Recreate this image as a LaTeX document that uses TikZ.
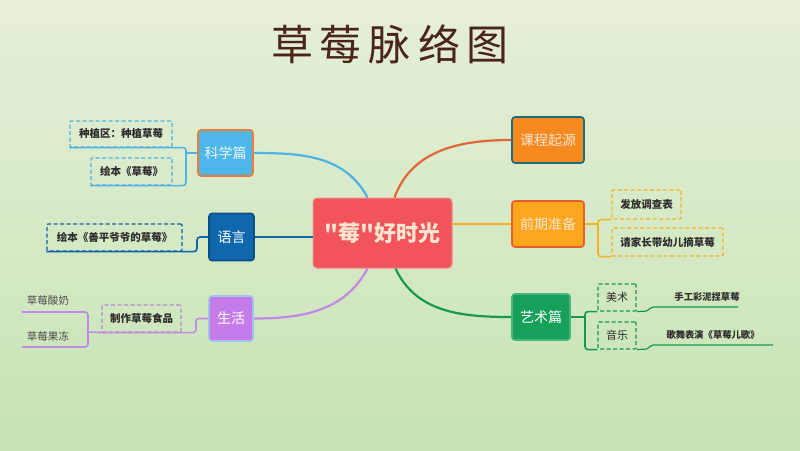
\documentclass[tikz,border=0pt]{standalone}
\usepackage{fontspec}
\newfontfamily\cjk{Noto Sans CJK SC}
\definecolor{bgtop}{HTML}{E6F0D8}
\definecolor{bgbot}{HTML}{C6E3B4}
\definecolor{mainred}{HTML}{F2545B}
\definecolor{cream}{HTML}{FDE6CF}
\definecolor{sciblue}{HTML}{4DB6EA}
\definecolor{sciborder}{HTML}{EF7D33}
\definecolor{langblue}{HTML}{0F68AE}
\definecolor{langborder}{HTML}{0A4F86}
\definecolor{lifepurple}{HTML}{C57CE9}
\definecolor{lifeborder}{HTML}{9EC5EF}
\definecolor{origorange}{HTML}{F5891F}
\definecolor{origborder}{HTML}{1F6E78}
\definecolor{prepyellow}{HTML}{FBA71D}
\definecolor{prepborder}{HTML}{E8612C}
\definecolor{artgreen}{HTML}{17A05A}
\definecolor{artborder}{HTML}{46B67C}
\definecolor{lnblue}{HTML}{4FB3E3}
\definecolor{lndblue}{HTML}{0D64A8}
\definecolor{lnpurple}{HTML}{C08AE6}
\definecolor{lnorange}{HTML}{E0673A}
\definecolor{lngold}{HTML}{F5B324}
\definecolor{lngreen}{HTML}{16994F}
\definecolor{titlebrown}{HTML}{4A2518}
\definecolor{leaftext}{HTML}{2D2D2D}
\tikzset{
  topic/.style={rounded corners=3pt, line width=1.6pt, inner sep=0pt,
    font=\cjk\fontsize{14}{15}\selectfont, text=white},
  sub/.style={dashed, dash pattern=on 4pt off 2.5pt, line width=1.1pt, inner sep=0pt,
    font=\cjk\bfseries\fontsize{10.5}{11}\selectfont, text=leaftext, rounded corners=1pt},
  branch/.style={line width=2.2pt},
  twig/.style={line width=1.6pt, rounded corners=3pt},
  plain/.style={font=\cjk\fontsize{10.5}{11}\selectfont, text=black!70, inner sep=0pt},
  leaf/.style={font=\cjk\bfseries\fontsize{9.3}{10}\selectfont, text=leaftext, inner sep=0pt}
}
\begin{document}
\begin{tikzpicture}[x=1pt,y=-1pt]
\shade[top color=bgtop, bottom color=bgbot] (0,0) rectangle (800,450);
\path[use as bounding box] (0,0) rectangle (800,450);

% title
\node[font=\cjk\fontsize{42}{42}\selectfont, text=titlebrown] (title) at (390,44)
  {草\hspace{7pt}莓\hspace{7pt}脉\hspace{7pt}络\hspace{7pt}图};

% central node
\node[fill=mainred, draw=mainred!70!white, line width=1pt, rounded corners=4pt,
  minimum width=139pt, minimum height=70pt, inner sep=0pt,
  font=\cjk\bfseries\fontsize{22}{24}\selectfont, text=cream] (main) at (382.5,233) {"莓"好时光};

% topics
\node[topic, fill=sciblue, draw=sciborder, minimum width=55pt, minimum height=46pt, text=white!90!sciblue] (sci) at (225.5,153) {科学篇};
\node[topic, fill=langblue, draw=langborder, minimum width=45pt, minimum height=47pt] (lang) at (231.5,237) {语言};
\node[topic, fill=lifepurple, draw=lifeborder, minimum width=44pt, minimum height=45pt] (life) at (231,318.5) {生活};
\node[topic, fill=origorange, draw=origborder, minimum width=72pt, minimum height=46pt, text=cream] (orig) at (548,140) {课程起源};
\node[topic, fill=prepyellow, draw=prepborder, minimum width=72pt, minimum height=46pt, text=cream] (prep) at (548,224) {前期准备};
\node[topic, fill=artgreen, draw=artborder, minimum width=58pt, minimum height=46pt] (art) at (541,317) {艺术篇};

% main branches
\draw[branch, lnblue] (sci.east) to[out=0, in=118] ([xshift=55pt]main.north west);
\draw[branch, lndblue] (lang.east) -- (main.west |- lang.east);
\draw[branch, lnpurple] (life.east) to[out=0, in=242] ([xshift=55pt]main.south west);
\draw[branch, lnorange] ([xshift=82pt]main.north west) to[out=70, in=180] (orig.west);
\draw[branch, lngold] (main.east |- prep.west) -- (prep.west);
\draw[branch, lngreen] ([xshift=83pt]main.south west) to[out=-65, in=180] (art.west);

% science children
\node[sub, draw=lnblue, minimum width=102pt, minimum height=26pt] (s1) at (121,134) {种植区：种植草莓};
\node[sub, draw=lnblue, minimum width=81pt, minimum height=27pt] (s2) at (131.5,171.5) {绘本《草莓》};
\coordinate (sb) at (186,153);
\draw[twig, lnblue] (sci.west) -- (sb);
\draw[twig, lnblue] (s1.south west) -| (sb) |- (s2.south west);

% language child
\node[sub, draw=lndblue, minimum width=135pt, minimum height=27pt] (l1) at (114.5,237.5) {绘本《善平爷爷的草莓》};
\coordinate (lb) at (197,237);
\draw[twig, lndblue] (lang.west) -- (lb) |- (l1.south east) -- (l1.south west);

% life children
\node[sub, draw=lnpurple!80!gray, minimum width=79pt, minimum height=27pt] (f1) at (141.5,318.5) {制作草莓食品};
\coordinate (fb) at (196,318.5);
\coordinate (fb2) at (88,332);
\coordinate (y1) at (22,312);
\coordinate (y2) at (22,347);
\draw[twig, lnpurple] (life.west) -- (fb) |- (f1.south east) -- (f1.south west) -- (fb2);
\draw[twig, lnpurple] (y1) -| (fb2) |- (y2);
\node[plain] (t1) at (48,301) {草莓酸奶};
\node[plain] (t2) at (48,336) {草莓果冻};

% preparation children
\node[sub, draw=lngold, minimum width=69pt, minimum height=29pt] (p1) at (646.5,204.5) {发放调查表};
\node[sub, draw=lngold, minimum width=111pt, minimum height=28pt] (p2) at (667.5,242) {请家长带幼儿摘草莓};
\coordinate (pb) at (598,224);
\draw[twig, lngold] (prep.east) -- (pb);
\draw[twig, lngold] (p1.south west) -| (pb) |- (p2.south west);

% art children
\node[sub, draw=lngreen, font=\cjk\fontsize{11}{12}\selectfont, minimum width=38pt, minimum height=27pt] (a1) at (617,297.5) {美术};
\node[sub, draw=lngreen, font=\cjk\fontsize{11}{12}\selectfont, minimum width=38pt, minimum height=27pt] (a2) at (617,335.5) {音乐};
\coordinate (ab) at (585,317);
\draw[twig, lngreen] (art.east) -- (ab);
\draw[twig, lngreen] (a1.south west) -| (ab) |- (a2.south west);
\coordinate (m1a) at (648,311);
\coordinate (m1b) at (651,307);
\coordinate (m1e) at (738,307);
\coordinate (m2a) at (648,349);
\coordinate (m2b) at (651,345);
\coordinate (m2e) at (773,345);
\draw[line width=1.2pt, lngreen, rounded corners=2pt] (a1.south east) -- (m1a) -- (m1b) -- (m1e);
\draw[line width=1.2pt, lngreen, rounded corners=2pt] (a2.south east) -- (m2a) -- (m2b) -- (m2e);
\node[leaf] (m1) at (707,297) {手工彩泥捏草莓};
\node[leaf] (m2) at (713,335) {歌舞表演《草莓儿歌》};
\end{tikzpicture}
\end{document}
